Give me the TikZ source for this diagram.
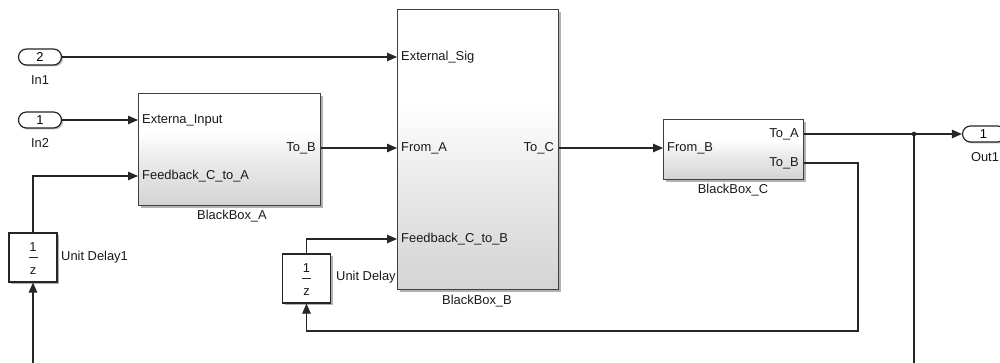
\documentclass[tikz,border=0pt]{standalone}
\usepackage{fontspec}
\setmainfont{Liberation Sans}
\usetikzlibrary{shapes.misc,shadows,arrows.meta,calc}
\pgfdeclareverticalshading{bbshade}{100bp}{color(0bp)=(black!17); color(25bp)=(black!17); color(45bp)=(black!8); color(58bp)=(white); color(100bp)=(white)}
\begin{document}
\begin{tikzpicture}[x=1pt,y=-1pt,
  lbl/.style={font=\fontsize{12.9}{15}\selectfont, text=black!90, inner sep=0pt},
  bbox/.style={draw=black!75, line width=1.2pt, shading=bbshade, anchor=north west, inner sep=0pt,
     drop shadow={shadow xshift=2.5pt, shadow yshift=-2.5pt, fill=black, opacity=0.3}},
  dbox/.style={draw=black!85, line width=1.2pt, fill=white, inner sep=0pt, minimum width=48pt, minimum height=49pt,
     drop shadow={shadow xshift=2pt, shadow yshift=-2pt, fill=black, opacity=0.3}},
  pill/.style={rounded rectangle, draw=black!85, line width=1.2pt, fill=white, minimum width=43pt, minimum height=16pt, inner sep=0pt,
     font=\fontsize{12.9}{15}\selectfont,
     drop shadow={shadow xshift=1.5pt, shadow yshift=-1.5pt, fill=black, opacity=0.25}},
  wire/.style={draw=black!85, line width=1.1pt},
  arr/.style={wire, -{Triangle[length=10pt,width=8.5pt]}}
]
\useasboundingbox (0,0) rectangle (1000,363);
\clip (0,0) rectangle (1000,363);

% Inports
\node[pill] (in1) at (40,57) {2};
\node[lbl] (in1l) at (40,80) {In1};
\node[pill] (in2) at (40,120) {1};
\node[lbl] (in2l) at (40,143) {In2};

% Unit Delay label (drawn before BlackBox_B so it is covered)
\node[lbl, anchor=west] (udl) at (336,277) {Unit Delay};

% BlackBox_A
\node[bbox, minimum width=182pt, minimum height=112pt] (A) at (138,93) {};
\node[lbl, anchor=west] (Ain1) at (142,120) {Externa\_Input};
\node[lbl, anchor=west] (Ain2) at (142,176) {Feedback\_C\_to\_A};
\node[lbl, anchor=east] (Aout) at (316,148) {To\_B};
\node[lbl] (Al) at (232,216) {BlackBox\_A};

% BlackBox_B
\node[bbox, minimum width=161pt, minimum height=280pt] (B) at (397,9) {};
\node[lbl, anchor=west] (Bin1) at (401,57) {External\_Sig};
\node[lbl, anchor=west] (Bin2) at (401,148) {From\_A};
\node[lbl, anchor=west] (Bin3) at (401,239) {Feedback\_C\_to\_B};
\node[lbl, anchor=east] (Bout) at (554,148) {To\_C};
\node[lbl] (Bl) at (477,301) {BlackBox\_B};

% BlackBox_C
\node[bbox, minimum width=140pt, minimum height=60pt] (C) at (663,119) {};
\node[lbl, anchor=west] (Cin) at (667,148) {From\_B};
\node[lbl, anchor=east] (Cout1) at (799,134) {To\_A};
\node[lbl, anchor=east] (Cout2) at (799,163) {To\_B};
\node[lbl] (Cl) at (733,190) {BlackBox\_C};

% Unit Delay1
\node[dbox] (ud1) at (33,257.5) {};
\node[lbl] (ud1n) at (33,247) {1};
\draw[black!85, line width=1pt] ($(ud1)+(-4.5,0)$) -- ($(ud1)+(4.5,0)$);
\node[lbl] (ud1d) at (33,271) {z};
\node[lbl, anchor=west] (ud1l) at (61,257) {Unit Delay1};

% Unit Delay
\node[dbox] (ud) at (306.5,278.5) {};
\node[lbl] (udn) at (306.5,268) {1};
\draw[black!85, line width=1pt] ($(ud)+(-4.5,0)$) -- ($(ud)+(4.5,0)$);
\node[lbl] (udd) at (306.5,292) {z};

% Outport
\node[pill] (out1) at (984,134) {\hspace*{-1pt}1};
\node[lbl] (out1l) at (985,157) {Out1};

% junction and free ends
\coordinate (j) at (914,134);
\coordinate (jb) at (914,363);
\coordinate (ud1b) at (33,363);
\coordinate (fbc) at (858,163);
\coordinate (fbd) at (858,331);
\fill[black!85] (j) circle (2.3pt);

% connectors
\draw[arr] (in1.east) -- (B.west |- in1.east);
\draw[arr] (in2.east) -- (A.west |- in2.east);
\draw[arr] (ud1.north) |- (A.west |- Ain2);
\draw[arr] (A.east |- Aout) -- (B.west |- Aout);
\draw[arr] (B.east |- Bout) -- (C.west |- Bout);
\draw[arr] (ud.north) |- (B.west |- Bin3);
\draw[arr] (C.east |- Cout1) -- (out1.west);
\draw[wire] (j) -- (jb);
\draw[arr] (ud1b) -- (ud1.south);
\draw[arr] (C.east |- Cout2) -- (fbc) -- (fbd) -| (ud.south);
\end{tikzpicture}
\end{document}
